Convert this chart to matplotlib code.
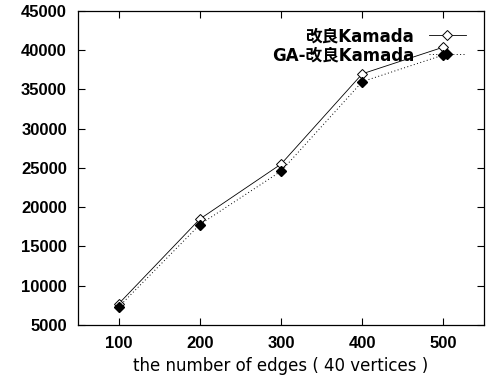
import matplotlib.pyplot as plt

plt.rcParams['font.family'] = ['Liberation Sans', 'Noto Sans CJK JP']
plt.rcParams['font.weight'] = 'bold'

edges = [100, 200, 300, 400, 500]
kamada = [7700, 18500, 25500, 37000, 40400]
ga_kamada = [7300, 17800, 24600, 36000, 39400]
yticks = [5000, 10000, 15000, 20000, 25000, 30000, 35000, 40000, 45000]

wide = ['DejaVu Sans', 'Noto Sans CJK JP']

fig = plt.figure(figsize=(4.88, 3.79), dpi=100)
ax = fig.add_axes([0.160, 0.1425, 0.832, 0.8285])

ax.plot(edges, kamada, color="black", lw=0.6, marker="D", markersize=5,
        markerfacecolor="white", markeredgecolor="black", markeredgewidth=0.7,
        label="改良Kamada")
ax.plot(edges, ga_kamada, color="black", lw=0.7, ls=(0, (1, 2.5)), marker="D",
        markersize=5.5, markerfacecolor="black", markeredgecolor="black",
        label="GA-改良Kamada")

ax.set_xlim(50, 550)
ax.set_ylim(5000, 45000)
ax.set_xticks(edges)
ax.set_yticks(yticks)
ax.tick_params(direction="in", top=True, right=True, length=5, width=0.8,
               labelsize=12, pad=8)
for s in ax.spines.values():
    s.set_linewidth(0.9)

ax.set_xlabel("the number of edges ( 40 vertices )", fontsize=12, labelpad=4,
              family=wide)

ax.legend(loc="upper right", bbox_to_anchor=(0.975, 0.975), frameon=False,
          markerfirst=False, handlelength=2.2, handletextpad=0.9,
          borderpad=0, labelspacing=0.05,
          prop={'family': wide, 'size': 12, 'weight': 'bold'})

plt.savefig("out.png", dpi=100)
